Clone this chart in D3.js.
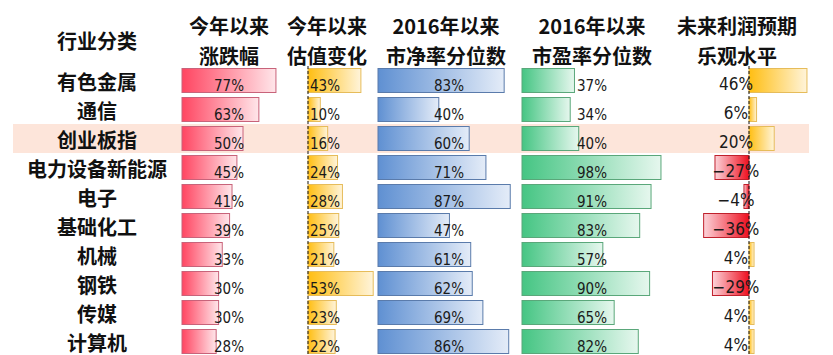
<!DOCTYPE html>
<html><head><meta charset="utf-8">
<script src="https://cdn.jsdelivr.net/npm/d3@7"></script>
<style>
html,body{margin:0;padding:0;background:#fff;}
svg{display:block;}
</style></head>
<body>
<script>
// ---- data ----
const categories = ["有色金属","通信","创业板指","电力设备新能源","电子","基础化工","机械","钢铁","传媒","计算机"];
const ytdChange   = [77,63,50,45,41,39,33,30,30,28];          // 今年以来涨跌幅
const valChange   = [43,10,16,24,28,25,21,53,23,22];          // 今年以来估值变化
const pbPct       = [83,40,60,71,87,47,61,62,69,86];          // 2016年以来市净率分位数
const pePct       = [37,34,40,98,91,83,57,90,65,82];          // 2016年以来市盈率分位数
const profitOpt   = [46,6,20,-27,-4,-36,4,-29,4,4];           // 未来利润预期乐观水平
const headerCat   = ["行业分类"];
const headers     = [["今年以来","涨跌幅"],["今年以来","估值变化"],["2016年以来","市净率分位数"],["2016年以来","市盈率分位数"],["未来利润预期","乐观水平"]];
const highlightCat = "创业板指";

const W = 833, H = 355;
const svg = d3.select("body").append("svg").attr("width", W).attr("height", H);
const defs = svg.append("defs");

function grad(id, c0, c1){
  const g = defs.append("linearGradient").attr("id", id).attr("x1","0").attr("x2","1").attr("y1","0").attr("y2","0");
  g.append("stop").attr("offset","0").attr("stop-color", c0);
  g.append("stop").attr("offset","1").attr("stop-color", c1);
}
grad("gRed", "#ff4561", "#ffe6ea");
grad("gOrg", "#ffbe12", "#fff4da");
grad("gBlue", "#5f90d2", "#e4ecf8");
grad("gGreen", "#45c583", "#e6f7ee");
grad("gNeg", "#fcd3d9", "#ee0f1f");

const y = d3.scaleBand().domain(categories).range([66, 356]).paddingInner(4/29).paddingOuter(2/29);

// highlight row
svg.append("rect").attr("x", 13).attr("width", 796)
  .attr("y", y(highlightCat) - 2).attr("height", y.step())
  .attr("fill", "#fde5da");

const cols = [
  {vals: ytdChange, x: d3.scaleLinear().domain([0,100]).range([182, 304]), fill:"url(#gRed)", stroke:"#c8637a", cx:229, fs:15, dy:5},
  {vals: valChange, x: d3.scaleLinear().domain([0,100]).range([308, 431]), fill:"url(#gOrg)", stroke:"#e6bc5a", cx:325, fs:15, dy:5, axis:true},
  {vals: pbPct,     x: d3.scaleLinear().domain([0,100]).range([378, 530]), fill:"url(#gBlue)", stroke:"#5a7bab", cx:449, fs:15, dy:5},
  {vals: pePct,     x: d3.scaleLinear().domain([0,100]).range([522, 663.8]), fill:"url(#gGreen)", stroke:"#5aa77a", cx:592, fs:15, dy:5},
  {vals: profitOpt, x: d3.scaleLinear().domain([0,100]).range([749, 875]), fill:"url(#gOrg)", stroke:"#e6bc5a", negFill:"url(#gNeg)", negStroke:"#c0202c", cx:736, fs:17, dy:3.5, axis:true}
];

cols.forEach(c => {
  const g = svg.append("g");
  g.selectAll("rect").data(categories).join("rect")
    .attr("x", (d,i) => c.x(Math.min(0, c.vals[i])))
    .attr("y", d => y(d) + 0.5)
    .attr("width", (d,i) => Math.abs(c.x(c.vals[i]) - c.x(0)))
    .attr("height", y.bandwidth() - 1)
    .attr("fill", (d,i) => c.vals[i] < 0 ? c.negFill : c.fill)
    .attr("stroke", (d,i) => c.vals[i] < 0 ? c.negStroke : c.stroke)
    .attr("stroke-width", 1);
  if (c.axis) {
    svg.append("line").attr("x1", c.x(0)).attr("x2", c.x(0))
      .attr("y1", y.range()[0]).attr("y2", H)
      .attr("stroke", "#111").attr("stroke-width", 1).attr("stroke-dasharray", "3,2");
  }
});

cols.forEach(c => {
  svg.append("g").selectAll("text").data(categories).join("text")
    .attr("x", c.cx)
    .attr("y", d => y(d) + y.bandwidth()/2 + c.dy)
    .attr("text-anchor", "middle")
    .attr("dominant-baseline", "central")
    .attr("font-family", "'Liberation Sans Narrow','DejaVu Sans Condensed','Arial Narrow',sans-serif")
    .attr("font-size", c.fs)
    .attr("fill", "#1a1a1a")
    .text((d,i) => (c.vals[i] < 0 ? "−" + Math.abs(c.vals[i]) : c.vals[i]) + "%");
});

// row labels
svg.append("g").selectAll("text").data(categories).join("text")
  .attr("x", 97)
  .attr("y", d => y(d) + y.bandwidth()/2 + 0.5)
  .attr("text-anchor", "middle")
  .attr("dominant-baseline", "central")
  .attr("font-family", "'Noto Sans CJK SC',sans-serif")
  .attr("font-weight", 700)
  .attr("font-size", 20)
  .attr("fill", "#111")
  .text(d => d);

// headers
const headFont = "'Noto Sans CJK SC',sans-serif";
svg.append("text").attr("x", 97).attr("y", 40)
  .attr("text-anchor","middle").attr("dominant-baseline","central")
  .attr("font-family", headFont).attr("font-weight",700).attr("font-size",20).attr("fill","#111")
  .text(headerCat[0]);
const headerX = [229, 327, 446, 592, 737];
headers.forEach((lines, j) => {
  lines.forEach((t, k) => {
    svg.append("text").attr("x", headerX[j]).attr("y", 25 + k*30)
      .attr("text-anchor","middle").attr("dominant-baseline","central")
      .attr("font-family", headFont).attr("font-weight",700).attr("font-size",20).attr("fill","#111")
      .text(t);
  });
});
</script>
</body></html>
